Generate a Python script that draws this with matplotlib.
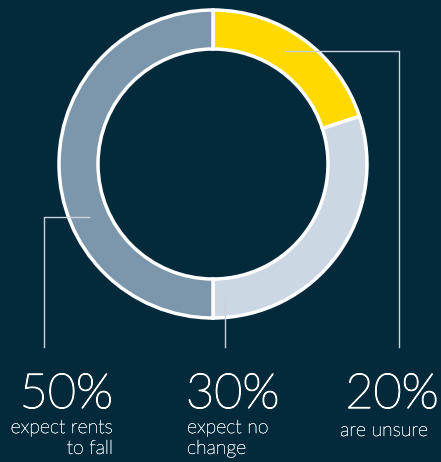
import numpy as np
import matplotlib.pyplot as plt
import matplotlib.patheffects as pe

# survey shares, clockwise from 12 o'clock
shares = [20, 30, 50]
colors = ["#FFD900", "#CCD7E4", "#7C97AC"]
pct_labels = ["20%", "30%", "50%"]
desc_labels = ["are unsure", "expect no\nchange", "expect rents\nto fall"]
# angle (deg clockwise from top) where each leader line touches the ring
anchor_angles = [33, 175, 247]

BG = "#022A3B"
LINE = "#C9D1DB"
W, H = 441, 462

fig = plt.figure(figsize=(W / 100, H / 100), dpi=100, facecolor=BG)
ax = fig.add_axes([0, 0, 1, 1])
ax.set_facecolor(BG)

cx, cy = 213, H - 164
R, ring = 154, 39
ax.pie(shares, colors=colors, center=(cx, cy), radius=R, startangle=90,
       counterclock=False, frame=True,
       wedgeprops=dict(width=ring, edgecolor="white", linewidth=2.5))
ax.set_xlim(0, W)
ax.set_ylim(0, H)
ax.set_aspect("equal")
ax.axis("off")


def anchor(a):
    t = np.deg2rad(90 - a)
    r = R - ring / 2
    return cx + r * np.cos(t), cy + r * np.sin(t)


line_bottom = H - 347
# 20% -> right
x0, y0 = anchor(anchor_angles[0])
ax.plot([x0, 399, 399], [y0, y0, line_bottom], color=LINE, lw=1)
# 30% -> straight down
x1, y1 = anchor(anchor_angles[1])
ax.plot([x1, x1], [y1, line_bottom], color=LINE, lw=1)
# 50% -> left
x2, y2 = anchor(anchor_angles[2])
ax.plot([x2, 44, 44], [y2, y2, line_bottom], color=LINE, lw=1)

font = "Lato"
big = dict(color="white", fontsize=35, family=font, weight="light",
           path_effects=[pe.withStroke(linewidth=0.9, foreground="white")])
small = dict(color="#E4E9EE", fontsize=14, family=font, weight="light",
             linespacing=1.2,
             path_effects=[pe.withStroke(linewidth=0.3, foreground="#E4E9EE")])

# 20%
ax.text(392, H - 408, pct_labels[0], ha="center", va="baseline", **big)
ax.text(384, H - 436, desc_labels[0], ha="center", va="baseline", **small)
# 30%
ax.text(186, H - 408, pct_labels[1], ha="left", va="baseline", **big)
ax.text(187, H - 419, desc_labels[1], ha="left", va="top", **small)
# 50%
ax.text(113, H - 408, pct_labels[2], ha="right", va="baseline", **big)
ax.text(113, H - 419, desc_labels[2], ha="right", va="top",
        multialignment="right", **small)

fig.savefig("out.png", dpi=100, facecolor=BG)
